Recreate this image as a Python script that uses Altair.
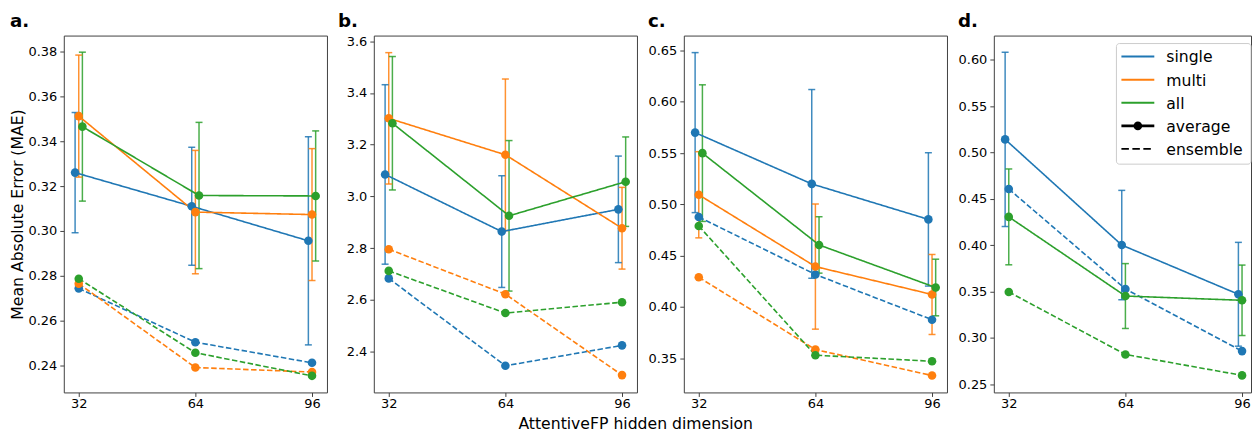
import altair as alt
import pandas as pd

# ---------------- data ----------------
dims = [32, 64, 96]
series_names = ["single", "multi", "all"]
series_colors = ["#1f77b4", "#ff7f0e", "#2ca02c"]
kinds = ["average", "ensemble"]
panel_keys = ["a.", "b.", "c.", "d."]

# panel a
a_avg_single = [0.326, 0.311, 0.2956]
a_err_single = [0.0268, 0.0263, 0.0464]
a_avg_multi = [0.3512, 0.3084, 0.3073]
a_err_multi = [0.0272, 0.0275, 0.0294]
a_avg_all = [0.3465, 0.3158, 0.3156]
a_err_all = [0.0332, 0.0326, 0.029]
a_ens_single = [0.2744, 0.2504, 0.2412]
a_ens_multi = [0.2765, 0.2391, 0.2371]
a_ens_all = [0.2787, 0.2457, 0.2354]
a_ticks = [0.24, 0.26, 0.28, 0.30, 0.32, 0.34, 0.36, 0.38]

# panel b
b_avg_single = [3.085, 2.864, 2.950]
b_err_single = [0.347, 0.216, 0.206]
b_avg_multi = [3.302, 3.161, 2.877]
b_err_multi = [0.254, 0.293, 0.158]
b_avg_all = [3.283, 2.925, 3.057]
b_err_all = [0.258, 0.291, 0.173]
b_ens_single = [2.683, 2.345, 2.424]
b_ens_multi = [2.796, 2.622, 2.309]
b_ens_all = [2.712, 2.549, 2.591]
b_ticks = [2.4, 2.6, 2.8, 3.0, 3.2, 3.4, 3.6]

# panel c
c_avg_single = [0.570, 0.520, 0.4854]
c_err_single = [0.078, 0.092, 0.065]
c_avg_multi = [0.5094, 0.4394, 0.4122]
c_err_multi = [0.042, 0.061, 0.039]
c_avg_all = [0.550, 0.4605, 0.419]
c_err_all = [0.0666, 0.0275, 0.0276]
c_ens_single = [0.4877, 0.4317, 0.3876]
c_ens_multi = [0.429, 0.3585, 0.3332]
c_ens_all = [0.479, 0.353, 0.3471]
c_ticks = [0.35, 0.40, 0.45, 0.50, 0.55, 0.60, 0.65]

# panel d (no "multi" series)
d_avg_single = [0.514, 0.400, 0.3469]
d_err_single = [0.094, 0.059, 0.056]
d_avg_all = [0.4304, 0.345, 0.3404]
d_err_all = [0.0517, 0.035, 0.038]
d_ens_single = [0.4605, 0.3526, 0.2856]
d_ens_all = [0.3494, 0.282, 0.2594]
d_ticks = [0.25, 0.30, 0.35, 0.40, 0.45, 0.50, 0.55, 0.60]

legend_labels = ["single", "multi", "all", "average", "ensemble"]

panels = {
    "a.": dict(avg={"single": a_avg_single, "multi": a_avg_multi, "all": a_avg_all},
               err={"single": a_err_single, "multi": a_err_multi, "all": a_err_all},
               ens={"single": a_ens_single, "multi": a_ens_multi, "all": a_ens_all},
               ydom=[0.228, 0.3871], ticks=a_ticks, fmt=".2f"),
    "b.": dict(avg={"single": b_avg_single, "multi": b_avg_multi, "all": b_avg_all},
               err={"single": b_err_single, "multi": b_err_multi, "all": b_err_all},
               ens={"single": b_ens_single, "multi": b_ens_multi, "all": b_ens_all},
               ydom=[2.242, 3.622], ticks=b_ticks, fmt=".1f"),
    "c.": dict(avg={"single": c_avg_single, "multi": c_avg_multi, "all": c_avg_all},
               err={"single": c_err_single, "multi": c_err_multi, "all": c_err_all},
               ens={"single": c_ens_single, "multi": c_ens_multi, "all": c_ens_all},
               ydom=[0.3167, 0.6646], ticks=c_ticks, fmt=".2f"),
    "d.": dict(avg={"single": d_avg_single, "all": d_avg_all},
               err={"single": d_err_single, "all": d_err_all},
               ens={"single": d_ens_single, "all": d_ens_all},
               ydom=[0.241, 0.626], ticks=d_ticks, fmt=".2f"),
}

# ---------------- layout ----------------
PH = 358
PW = 264
XDOM = [27.9, 100.1]
PXU = PW / (XDOM[1] - XDOM[0])
PW_D = 258
XDOM_D = [27.9, 27.9 + PW_D / PXU]
FONT = "DejaVu Sans"
LBL = 15.7

color_enc = alt.Color("series:N", scale=alt.Scale(domain=series_names, range=series_colors), legend=None)
dash_enc = alt.StrokeDash("kind:N", scale=alt.Scale(domain=kinds, range=[[1, 0], [5.5, 2.5]]), legend=None)


def build_frames(p):
    present = [s for s in series_names if s in p["avg"]]
    rows_line, rows_err = [], []
    for idx, s in enumerate(present):
        off = idx - 1
        for i, d in enumerate(dims):
            v = p["avg"][s][i]
            e = p["err"][s][i]
            rows_line.append(dict(series=s, kind="average", xpos=d + off, value=v))
            rows_err.append(dict(series=s, xpos=d + off, value=v, lo=v - e, hi=v + e))
            rows_line.append(dict(series=s, kind="ensemble", xpos=d, value=p["ens"][s][i]))
    return pd.DataFrame(rows_line), pd.DataFrame(rows_err)


AX_COMMON = dict(grid=False, domain=False, tickSize=4, tickColor="#404040", tickWidth=1,
                 labelFont=FONT, labelFontSize=13, labelColor="#000000",
                 labelOverlap=False, labelFlush=False)


def make_panel(key, width, xdom, ytitle=None):
    p = panels[key]
    df_line, df_err = build_frames(p)
    xs = alt.Scale(domain=xdom, nice=False, zero=False)
    ys = alt.Scale(domain=p["ydom"], nice=False, zero=False)
    xaxis = alt.Axis(values=dims, format="d", title=None, labelPadding=1, **AX_COMMON)
    yaxis_kw = dict(values=p["ticks"], format=p["fmt"], minExtent=36, maxExtent=36,
                    labelPadding=3, **AX_COMMON)
    if ytitle:
        yaxis = alt.Axis(title=ytitle, titlePadding=2, titleFont=FONT, titleFontSize=LBL,
                         titleFontWeight="normal", titleColor="#000000", **yaxis_kw)
    else:
        yaxis = alt.Axis(title=None, **yaxis_kw)

    def X(f="xpos"):
        return alt.X(f + ":Q", scale=xs, axis=xaxis)

    def Y(f):
        return alt.Y(f + ":Q", scale=ys, axis=yaxis)

    err_rule = alt.Chart(df_err).mark_rule(strokeWidth=1.5, opacity=0.85).encode(
        x=X(), y=Y("lo"), y2=alt.Y2("hi"), color=color_enc)
    cap_lo = alt.Chart(df_err).mark_tick(orient="horizontal", size=7, thickness=1.5, opacity=0.85).encode(
        x=X(), y=Y("lo"), color=color_enc)
    cap_hi = alt.Chart(df_err).mark_tick(orient="horizontal", size=7, thickness=1.5, opacity=0.85).encode(
        x=X(), y=Y("hi"), color=color_enc)
    lines = alt.Chart(df_line).mark_line(strokeWidth=1.6).encode(
        x=X(), y=Y("value"), color=color_enc, strokeDash=dash_enc,
        detail="kind:N")
    pts = alt.Chart(df_line).mark_circle(size=74, opacity=1).encode(
        x=X(), y=Y("value"), color=color_enc)

    layers = [err_rule, cap_lo, cap_hi, lines, pts]

    if key == "d.":
        one = pd.DataFrame({"k": [0]})
        lx0, lx1, ly0, ly1 = 123, width, 8, 129
        layers.append(alt.Chart(one).mark_rect(fill="white", fillOpacity=0.85, stroke="#cccccc",
                                               strokeWidth=1, cornerRadius=3).encode(
            x=alt.value(lx0), x2=alt.value(lx1), y=alt.value(ly0), y2=alt.value(ly1)))
        row_y = [21, 44.3, 67.3, 90.6, 113.7]
        handle_colors = series_colors + ["#000000", "#000000"]
        for i, lab in enumerate(legend_labels):
            ld = pd.DataFrame({"label": [lab]})
            dash = [7.5, 3.5] if lab == "ensemble" else [1, 0]
            sw = 2.6 if lab == "average" else (1.8 if lab == "ensemble" else 2)
            layers.append(alt.Chart(ld).mark_rule(color=handle_colors[i], strokeWidth=sw,
                                                  strokeDash=dash).encode(
                x=alt.value(128), x2=alt.value(161), y=alt.value(row_y[i])))
            if lab == "average":
                layers.append(alt.Chart(ld).mark_circle(color="#000000", size=74, opacity=1).encode(
                    x=alt.value(144.5), y=alt.value(row_y[i])))
            layers.append(alt.Chart(ld).mark_text(align="left", baseline="middle", fontSize=LBL,
                                                  font=FONT, color="#000000").encode(
                x=alt.value(173), y=alt.value(row_y[i] + 1), text="label:N"))

    return alt.layer(*layers).properties(
        width=width, height=PH,
        title=alt.TitleParams(key, anchor="start", fontSize=18.3, fontWeight="bold", font=FONT,
                              color="#000000", offset=4))


pa = make_panel("a.", PW, XDOM, ytitle="Mean Absolute Error (MAE)")
pb = make_panel("b.", PW, XDOM)
pc = make_panel("c.", PW, XDOM)
pd_ = make_panel("d.", PW_D, XDOM_D)

chart = alt.hconcat(pa, pb, pc, pd_, spacing=9).properties(
    padding={"left": 9, "top": 10, "right": 0, "bottom": 0},
    background="white",
    title=alt.TitleParams("AttentiveFP hidden dimension", orient="bottom", anchor="middle",
                          fontSize=LBL, fontWeight="normal", font=FONT, color="#000000",
                          offset=6, dx=5),
).configure_view(stroke="#404040", strokeWidth=1).configure_axis(
    grid=False, domain=False, labelFont=FONT, labelFontSize=13, labelColor="#000000",
    tickColor="#404040", titleFont=FONT, titleFontSize=LBL, titleFontWeight="normal",
    titleColor="#000000"
)

chart.save("out.html", embed_options={"renderer": "svg", "actions": False})
